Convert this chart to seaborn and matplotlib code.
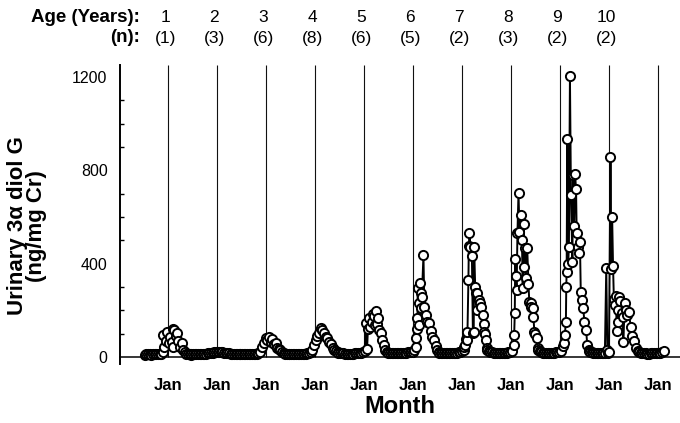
import numpy as np
import pandas as pd
import seaborn as sns
import matplotlib.pyplot as plt
from matplotlib.ticker import MultipleLocator

# ---------------- data (months relative to January of each age year) ----------------
ages = [1, 2, 3, 4, 5, 6, 7, 8, 9, 10]
n_subjects = [1, 3, 6, 8, 6, 5, 2, 3, 2, 2]
x_tick_labels = ["Jan"] * 11

age1_months = [-5.6, -5.2, -4.8, -4.4, -4.0, -3.6, -3.2, -2.8, -2.4, -2.0, -1.6, -1.2,
               -1.1, -0.9, -0.5, -0.25, 0.2, 0.56, 1.0, 1.2, 1.37, 1.6, 2.0, 2.2, 2.6,
               3.0, 3.4, 3.8, 4.2, 4.6, 5.0, 5.4, 5.8]
age1_values = [10, 11, 12, 11, 10, 11, 12, 13, 12, 13, 15, 23,
               94, 41, 70, 108, 60, 87, 66, 120, 44, 116, 90, 101, 70,
               45, 59, 30, 20, 14, 12, 11, 10]

age2_months = [-6.2, -5.8, -5.4, -5.0, -4.6, -4.2, -3.8, -3.4, -3.0, -2.6, -2.2, -1.8, -1.4, -1.0,
               -0.6, -0.2, 0.2, 0.6, 1.0, 1.4, 1.8, 2.2, 2.6, 3.0, 3.4, 3.8, 4.2, 4.6, 5.0,
               5.4, 5.8]
age2_values = [11, 12, 13, 12, 12, 13, 14, 13, 14, 15, 16, 17, 18, 19,
               20, 21, 22, 22, 21, 20, 19, 18, 17, 16, 15, 14, 14, 13, 12,
               12, 11]

age3_months = [-6.2, -5.8, -5.4, -5.0, -4.6, -4.2, -3.8, -3.4, -3.0, -2.6, -2.2, -1.8,
               -1.4, -0.8, -0.4, 0.0, 0.4, 0.8, 1.2, 1.6, 2.0, 2.45, 2.8, 3.2, 3.6,
               4.0, 4.4, 4.8, 5.2, 5.6]
age3_values = [11, 12, 12, 13, 12, 12, 13, 13, 14, 14, 15, 17,
               23, 44, 60, 80, 75, 85, 66, 78, 55, 59, 40, 35, 28,
               22, 18, 15, 14, 13]

age4_months = [-6.2, -5.8, -5.4, -5.0, -4.6, -4.2, -3.8, -3.4, -3.0, -2.6, -2.2, -1.8, -1.4,
               -0.9, -0.6, -0.2, 0.3, 0.64, 1.05, 1.47, 1.8, 2.2, 2.7, 3.1, 3.5,
               4.0, 4.4, 4.8, 5.2, 5.6]
age4_values = [12, 13, 13, 12, 12, 13, 14, 14, 13, 14, 15, 16, 17,
               20, 30, 50, 73, 90, 101, 123, 115, 105, 87, 80, 66,
               55, 40, 30, 24, 20]

age5_months = [-6.2, -5.8, -5.4, -5.0, -4.6, -4.2, -3.8, -3.4, -3.0, -2.6, -2.2, -1.8, -1.4, -1.0,
               -0.6, -0.2, 0.2, 0.56, 0.8, 1.0, 1.2, 1.6, 1.9, 2.2, 2.5, 2.7, 2.86, 3.2,
               3.5, 3.8, 4.1, 4.5, 4.9, 5.3, 5.7]
age5_values = [18, 17, 16, 16, 15, 15, 14, 14, 15, 15, 16, 16, 17, 17,
               18, 20, 24, 147, 33, 120, 166, 130, 151, 183, 176, 137, 197, 140,
               166, 116, 104, 73, 51, 30, 20]

age6_months = [-6.0, -5.6, -5.2, -4.8, -4.4, -4.0, -3.6, -3.2, -2.8, -2.4, -2.0, -1.6, -1.2, -0.8,
               -0.4, 0.0, 0.4, 0.66, 0.8, 1.0, 1.1, 1.2, 1.4, 1.6, 1.8, 1.9, 2.0, 2.2,
               2.6, 2.8, 3.2, 3.5, 3.9, 4.4, 4.8, 5.2, 5.6, 6.0, 6.4]
age6_values = [16, 17, 17, 18, 18, 17, 16, 16, 17, 18, 18, 19, 20, 20,
               21, 22, 28, 44, 80, 166, 119, 294, 230, 137, 318, 209, 273, 258,
               437, 216, 180, 151, 144, 113, 87, 73, 47, 30, 20]

age7_months = [-5.6, -5.2, -4.8, -4.4, -4.0, -3.6, -3.2, -2.8, -2.4, -2.0, -1.6, -1.2, -0.8, -0.4,
               0.0, 0.4, 0.56, 0.8, 1.0, 1.2, 1.37, 1.6, 1.7, 1.86, 2.1, 2.45, 2.7, 2.9,
               3.0, 3.26, 3.5, 3.7, 3.8, 4.1, 4.5, 4.8, 5.1, 5.3, 5.5, 5.7, 5.95, 6.2]
age7_values = [18, 19, 19, 18, 17, 17, 16, 16, 17, 18, 18, 19, 20, 21,
               24, 30, 44, 51, 76, 73, 108, 330, 476, 533, 470, 433, 104, 108,
               470, 301, 273, 201, 276, 244, 230, 216, 180, 141, 108, 99, 73, 40]

age8_months = [-5.8, -5.4, -5.0, -4.6, -4.2, -3.8, -3.4, -3.0, -2.6, -2.2, -1.8, -1.4, -1.0, -0.6,
               -0.2, 0.2, 0.64, 0.8, 0.95, 1.05, 1.2, 1.4, 1.6, 1.86, 2.1, 2.45, 2.7, 2.9,
               3.1, 3.26, 3.4, 3.6, 4.0, 4.3, 4.5, 4.8, 5.0, 5.3, 5.5, 5.75, 6.0, 6.3, 6.6]
age8_values = [30, 25, 22, 20, 18, 17, 16, 16, 17, 17, 18, 18, 19, 20,
               21, 25, 51, 94, 187, 419, 347, 287, 530, 704, 537, 609, 501, 294,
               570, 387, 469, 337, 466, 313, 237, 233, 216, 209, 173, 108, 97, 80, 40]

age9_months = [-5.4, -5.0, -4.6, -4.2, -3.8, -3.4, -3.0, -2.6, -2.2, -1.8, -1.4, -1.0, -0.6, -0.2,
               0.2, 0.66, 0.9, 1.2, 1.46, 1.55, 1.64, 1.8, 2.0, 2.2, 2.45, 2.7, 3.05, 3.2,
               3.5, 3.7, 3.95, 4.1, 4.4, 4.75, 4.9, 5.1, 5.3, 5.7, 6.0, 6.4, 6.7, 7.0]
age9_values = [30, 25, 21, 19, 18, 17, 17, 16, 17, 18, 19, 20, 21, 23,
               25, 47, 60, 94, 151, 299, 366, 933, 400, 470, 1205, 694, 408, 780,
               560, 784, 719, 531, 470, 444, 494, 280, 244, 209, 150, 116, 51, 30]

age10_months = [-5.0, -4.6, -4.2, -3.8, -3.4, -3.0, -2.6, -2.2, -1.8, -1.4, -1.0,
                -0.66, -0.4, -0.2, 0.0, 0.37, 0.6, 0.78, 1.0, 1.2, 1.42, 1.7, 1.9, 2.1,
                2.3, 2.5, 2.8, 3.1, 3.4, 3.5, 3.9, 4.2, 4.5, 4.9, 5.3, 5.7, 6.1, 6.5, 7.0,
                7.4, 7.8, 8.2, 8.6, 9.0, 9.4, 9.8, 10.2, 10.6, 11.0, 11.4, 11.8, 12.2,
                12.6, 13.0, 13.4]
age10_values = [25, 22, 20, 18, 17, 16, 16, 17, 17, 16, 16,
                383, 30, 16, 20, 856, 376, 601, 390, 250, 223, 260, 113, 200,
                151, 256, 240, 190, 173, 66, 230, 200, 180, 192, 130, 90, 70, 40, 25,
                20, 18, 17, 16, 16, 15, 15, 16, 16, 17, 17, 18, 18,
                19, 20, 27]

month_lists = [age1_months, age2_months, age3_months, age4_months, age5_months,
               age6_months, age7_months, age8_months, age9_months, age10_months]
value_lists = [age1_values, age2_values, age3_values, age4_values, age5_values,
               age6_values, age7_values, age8_values, age9_values, age10_values]

rows = []
for age, ms, vs in zip(ages, month_lists, value_lists):
    for m, v in zip(ms, vs):
        rows.append({"time": age + m / 12.0, "value": v, "age": age})
df = pd.DataFrame(rows)

# ---------------- style ----------------
sns.set_theme(style="white")
plt.rcParams["font.family"] = ["Liberation Sans", "DejaVu Sans"]
plt.rcParams["text.color"] = "black"
plt.rcParams["axes.labelcolor"] = "black"
plt.rcParams["xtick.color"] = "black"
plt.rcParams["ytick.color"] = "black"

fig = plt.figure(figsize=(6.8, 4.23), dpi=100)
ax = fig.add_axes([120 / 680, 1 - 364 / 423, 560 / 680, (364 - 65) / 423])

jan_positions = list(range(1, 12))
ax.vlines(jan_positions, 0, 1252, colors="#111111", linewidth=0.8, zorder=1)

sns.lineplot(data=df, x="time", y="value", estimator=None, sort=False, ax=ax,
             color="black", linewidth=1.4, marker="o", markersize=6.6,
             markerfacecolor="white", markeredgecolor="black", markeredgewidth=1.4,
             zorder=3, legend=False)

ax.set_xlim(0.027, 11.449)
ax.set_ylim(-30, 1252)

for s in ["top", "right"]:
    ax.spines[s].set_visible(False)
ax.spines["bottom"].set_position(("data", 0))
ax.spines["bottom"].set_color("black")
ax.spines["bottom"].set_linewidth(1.1)
ax.spines["left"].set_color("black")
ax.spines["left"].set_linewidth(1.4)

ax.set_xticks(jan_positions)
ax.set_xticklabels(x_tick_labels, fontsize=12, fontweight="bold")
ax.tick_params(axis="x", direction="out", length=7, width=1.1, pad=8, colors="black")

ax.set_yticks([0, 400, 800, 1200])
ax.set_yticklabels(["0", "400", "800", "1200"], fontsize=11.5)
ax.yaxis.set_minor_locator(MultipleLocator(100))
ax.tick_params(axis="y", which="major", direction="out", length=7, width=1.1, pad=2, colors="black")
ax.tick_params(axis="y", which="minor", direction="in", length=3, width=1.0, colors="black", left=True)

ax.set_xlabel("Month", fontsize=17, fontweight="bold")
ax.xaxis.set_label_coords((400 - 120) / 560, (364 - 406) / 299)
ax.xaxis.label.set(va="center")

ax.set_ylabel("Urinary 3\u03b1 diol G\n(ng/mg Cr)", fontsize=16, fontweight="bold",
              linespacing=0.85)
ax.yaxis.label.set(va="center", rotation_mode="default")
ax.yaxis.set_label_coords((27 - 120) / 560, (364 - 226) / 299)

# top annotation rows
fig.text(140 / 680, 1 - 17 / 423, "Age (Years):", ha="right", va="center",
         fontsize=13.5, fontweight="bold")
fig.text(140 / 680, 1 - 38 / 423, "(n):", ha="right", va="center",
         fontsize=13.5, fontweight="bold")
trans = ax.get_xaxis_transform()
for age, n in zip(ages, n_subjects):
    ax.text(age - 0.05, 1 + (65 - 17) / 299, str(age), transform=trans,
            ha="center", va="center", fontsize=12.5, clip_on=False)
    ax.text(age - 0.05, 1 + (65 - 38) / 299, f"({n})", transform=trans,
            ha="center", va="center", fontsize=12.5, clip_on=False)

fig.savefig("out.png", dpi=100)
